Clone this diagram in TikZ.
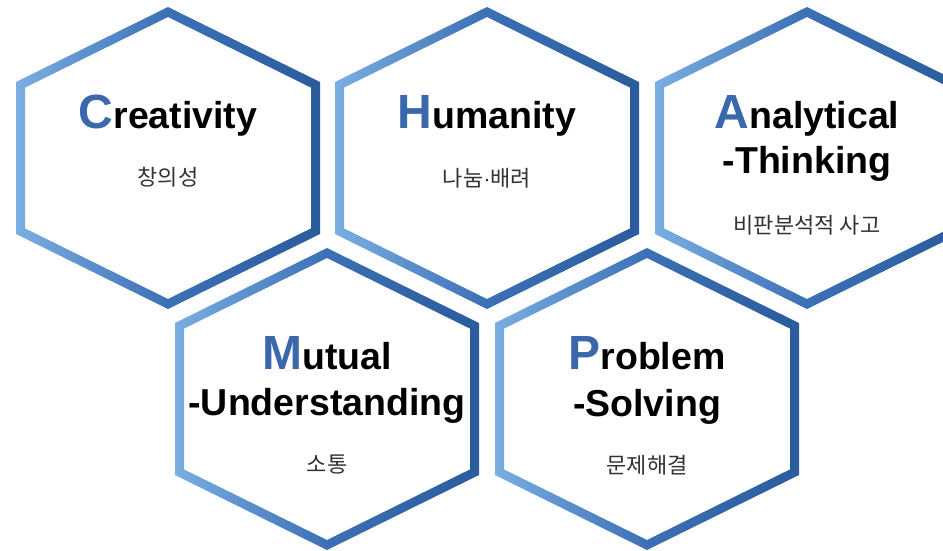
\documentclass[tikz,border=0pt]{standalone}
\usepackage{fontspec}
\setmainfont{Liberation Sans}
\newfontfamily\kofont{Noto Sans CJK KR}
\newfontfamily\dotfont{Liberation Sans}
\usetikzlibrary{calc}
\definecolor{hexlight}{RGB}{122,174,226}
\definecolor{hexmid}{RGB}{60,112,182}
\definecolor{hexdark}{RGB}{42,92,156}
\definecolor{initblue}{RGB}{58,104,170}
\definecolor{kogray}{RGB}{51,51,51}
\newcommand\initl[1]{{\color{initblue}\fontsize{48}{48}\selectfont #1}}
\newcommand\hexring[1]{%
  \shade[even odd rule, left color=hexlight, right color=hexdark, middle color=hexmid]
    ($(#1)+(0,-151)$) -- ($(#1)+(152,-76)$) -- ($(#1)+(152,76)$) --
    ($(#1)+(0,151)$) -- ($(#1)+(-152,76)$) -- ($(#1)+(-152,-76)$) -- cycle
    ($(#1)+(0,-141)$) -- ($(#1)+(143,-70.4)$) -- ($(#1)+(143,70.4)$) --
    ($(#1)+(0,141)$) -- ($(#1)+(-143,70.4)$) -- ($(#1)+(-143,-70.4)$) -- cycle;
}
\tikzset{
  title/.style={font=\bfseries\fontsize{37.5}{44}\selectfont, text=black, inner sep=0pt, anchor=base},
  kor/.style={font=\kofont\fontsize{22}{24}\selectfont, text=kogray, inner sep=0pt, anchor=base}
}
\begin{document}
\begin{tikzpicture}[x=1pt,y=-1pt]
\fill[white] (0,0) rectangle (943,550);
\useasboundingbox (0,0) rectangle (943,550);
\clip (0,0) rectangle (943,550);
\coordinate (h1) at (168,158);
\coordinate (h2) at (487,158);
\coordinate (h3) at (807,158);
\coordinate (h4) at (327,399);
\coordinate (h5) at (647,399);
\hexring{h1}
\hexring{h2}
\hexring{h3}
\hexring{h4}
\hexring{h5}
% Creativity
\node[title] (t1) at ($(h1)+(0,-30)$) {\initl{C}reativity};
\node[kor] (k1) at ($(h1)+(0,27)$) {창의성};
% Humanity
\node[title] (t2) at ($(h2)+(0,-30)$) {\initl{H}umanity};
\node[kor] (k2) at ($(h2)+(0,28)$) {나눔{\dotfont ·}배려};
% Analytical-Thinking
\node[title] (t3a) at ($(h3)+(0,-30)$) {\initl{A}nalytical};
\node[title] (t3b) at ($(h3)+(0,15)$) {-Thinking};
\node[kor] (k3) at ($(h3)+(0,75)$) {비판분석적 사고};
% Mutual-Understanding
\node[title] (t4a) at ($(h4)+(0,-30)$) {\initl{M}utual};
\node[title] (t4b) at ($(h4)+(0,16)$) {-Understanding};
\node[kor] (k4) at ($(h4)+(0,73)$) {소통};
% Problem-Solving
\node[title] (t5a) at ($(h5)+(0,-30)$) {\initl{P}roblem};
\node[title] (t5b) at ($(h5)+(0,17)$) {-Solving};
\node[kor] (k5) at ($(h5)+(0,74)$) {문제해결};
\end{tikzpicture}
\end{document}
